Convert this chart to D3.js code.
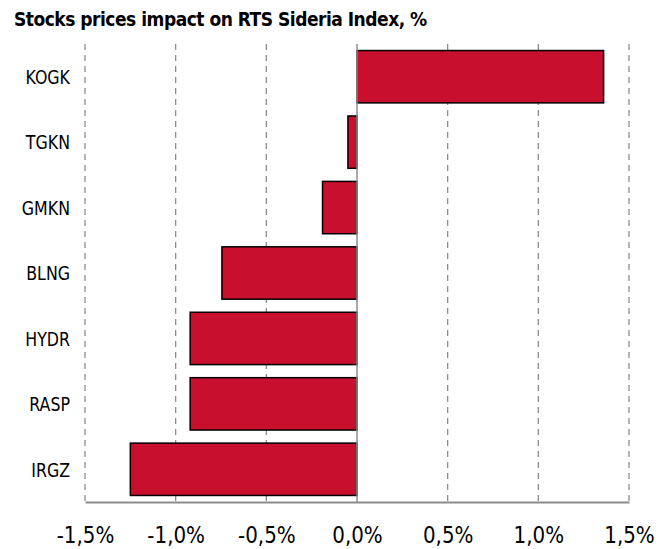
<!DOCTYPE html>
<html>
<head>
    <meta charset="utf-8"/>
    <title>RTS Sideria Index</title>
    <style>
        body {
            margin: 0;
            background: #fff;
        }
        svg {
            display: block;
        }
        .title {
            font-family: 'DejaVu Sans Condensed', 'DejaVu Sans', sans-serif;
            font-weight: bold;
            font-size: 19px;
            letter-spacing: -0.5px;
            fill: #000;
        }
        .cat {
            font-family: 'DejaVu Sans Condensed', 'DejaVu Sans', sans-serif;
            font-size: 20px;
            fill: #000;
        }
        .tick-label {
            font-family: 'DejaVu Sans Condensed', 'DejaVu Sans', sans-serif;
            font-size: 23px;
            fill: #000;
        }
        .grid {
            stroke: #8c8c8c;
            stroke-width: 1.3px;
            stroke-dasharray: 6 5;
        }
        .bar {
            fill: #c8102e;
            stroke: #000;
            stroke-width: 1.5px;
        }
    </style>
    <script src="https://cdnjs.cloudflare.com/ajax/libs/d3/7.8.5/d3.min.js"></script>
</head>
<body>
<svg id="viz" width="671" height="549"></svg>
<script>

const tickers = ['KOGK', 'TGKN', 'GMKN', 'BLNG', 'HYDR', 'RASP', 'IRGZ'];
const impact = [1.36, -0.05, -0.19, -0.745, -0.92, -0.92, -1.25];
const ticks = [-1.5, -1.0, -0.5, 0.0, 0.5, 1.0, 1.5];

const svg = d3.select('#viz');

const plot = { left: 85, right: 629, top: 44, bottom: 502 };

const x = d3.scaleLinear()
    .domain([-1.5, 1.5])
    .range([plot.left, plot.right]);

const y = d3.scaleBand()
    .domain(tickers)
    .range([plot.top, plot.bottom])
    .paddingInner(0.2)
    .paddingOuter(0.1);

const fmt = v => d3.format('.1f')(v).replace('.', ',').replace('−', '-') + '%';

svg.append('text')
    .attr('class', 'title')
    .attr('x', 14)
    .attr('y', 26)
    .text('Stocks prices impact on RTS Sideria Index, %');

// dashed grid lines (zero line is drawn solid after the bars)
svg.selectAll('line.grid')
    .data(ticks.filter(t => t !== 0))
    .enter().append('line')
    .attr('class', 'grid')
    .attr('x1', d => x(d)).attr('x2', d => x(d))
    .attr('y1', plot.top).attr('y2', plot.bottom);

svg.selectAll('rect.bar')
    .data(tickers)
    .enter().append('rect')
    .attr('class', 'bar')
    .attr('x', (d, i) => x(Math.min(0, impact[i])))
    .attr('width', (d, i) => Math.abs(x(impact[i]) - x(0)))
    .attr('y', d => y(d))
    .attr('height', y.bandwidth());

svg.append('line')
    .attr('x1', x(0)).attr('x2', x(0))
    .attr('y1', plot.top).attr('y2', plot.bottom)
    .attr('stroke', '#8c8c8c')
    .attr('stroke-width', 1.5);

// bottom axis
const xAxis = svg.append('g')
    .attr('transform', `translate(0,${plot.bottom})`)
    .call(d3.axisBottom(x).tickValues(ticks).tickSize(0).tickFormat(fmt));

xAxis.select('.domain')
    .attr('stroke', '#8c8c8c')
    .attr('stroke-width', 2);

xAxis.selectAll('.tick text')
    .attr('class', 'tick-label')
    .attr('font-family', null)
    .attr('font-size', null)
    .attr('fill', null)
    .attr('y', 41)
    .attr('dy', 0)
    .attr('transform', 'scale(0.96,1)');

// category labels, slightly narrowed
svg.selectAll('text.cat')
    .data(tickers)
    .enter().append('text')
    .attr('class', 'cat')
    .attr('transform', d => `translate(70,${y(d) + y.bandwidth() / 2}) scale(0.88,1)`)
    .attr('dy', '0.36em')
    .attr('text-anchor', 'end')
    .text(d => d);

</script>
</body>
</html>
